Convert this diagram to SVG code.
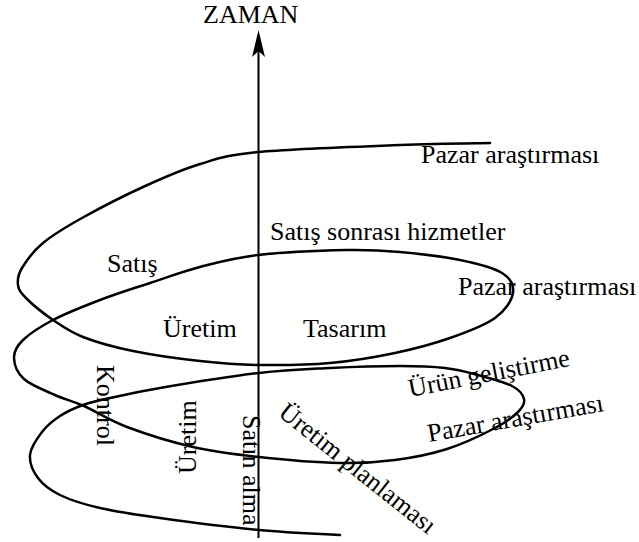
<svg xmlns="http://www.w3.org/2000/svg" width="639" height="542" viewBox="0 0 639 542">
<style>
.t{font-family:"Liberation Serif","Times New Roman",serif;font-size:26px;fill:#000}
.c{fill:none;stroke:#000;stroke-width:2.5;stroke-linecap:round;stroke-linejoin:round}
</style>
<rect width="639" height="542" fill="#fff"/>
<g id="connectors">
<path id="spiral" class="c" d="M490,143 C475,143.3 438.7,143.5 400,145 C361.3,146.5 291.3,148.8 258,152 C224.7,155.2 219.2,158.2 200,164 C180.8,169.8 162.7,178 143,187 C123.3,196 98.7,208.7 82,218 C65.3,227.3 53,234.7 43,243 C33,251.3 26.2,261 22,268 C17.8,275 17.3,280 18,285 C18.7,290 20.2,292.2 26,298 C31.8,303.8 43.5,313.5 53,320 C62.5,326.5 69.7,331.8 83,337 C96.3,342.2 113.5,347 133,351 C152.5,355 179,358.7 200,361 C221,363.3 237.3,364.7 259,365 C280.7,365.3 307.3,365 330,363 C352.7,361 375,357.2 395,353 C415,348.8 433.3,343.8 450,338 C466.7,332.2 484.5,325.5 495,318 C505.5,310.5 511.8,300.5 513,293 C514.2,285.5 510.8,278.5 502,273 C493.2,267.5 477,263.5 460,260 C443,256.5 418.8,253.7 400,252 C381.2,250.3 370.7,249.5 347,250 C323.3,250.5 282.5,252.2 258,255 C233.5,257.8 218,262.3 200,267 C182,271.7 166.7,277.5 150,283 C133.3,288.5 116.2,293.8 100,300 C83.8,306.2 65.8,313.3 53,320 C40.2,326.7 29.5,333.7 23,340 C16.5,346.3 13.8,351.5 14,358 C14.2,364.5 17.2,372.8 24,379 C30.8,385.2 45,390.5 55,395 C65,399.5 72,400.7 84,406 C96,411.3 108.8,420.2 127,427 C145.2,433.8 171,442 193,447 C215,452 234.5,454.3 259,457 C283.5,459.7 317.3,462.5 340,463 C362.7,463.5 377.2,462.3 395,460 C412.8,457.7 430.3,454.3 447,449 C463.7,443.7 483.2,434.2 495,428 C506.8,421.8 513.2,416.8 518,412 C522.8,407.2 525,403.3 524,399 C523,394.7 519.7,390 512,386 C504.3,382 489.2,378 478,375 C466.8,372 458,369.5 445,368 C432,366.5 419.2,366 400,366 C380.8,366 353.5,366.8 330,368 C306.5,369.2 287.3,369.7 259,373 C230.7,376.3 184.8,383.8 160,388 C135.2,392.2 122.8,395.2 110,398 C97.2,400.8 91.3,402 83,405 C74.7,408 66.8,411.5 60,416 C53.2,420.5 47,425.5 42,432 C37,438.5 30.7,447.3 30,455 C29.3,462.7 33,471.3 38,478 C43,484.7 49.7,490 60,495 C70.3,500 83.3,504.2 100,508 C116.7,511.8 133.5,514.3 160,518 C186.5,521.7 229,527.2 259,530 C289,532.8 326.5,534.2 340,535"/>
<g id="axis">
<line x1="258.5" y1="48" x2="258.5" y2="538" stroke="#000" stroke-width="2"/>
<path d="M258.5,30 L265,57 L258.5,51 L252,57 Z" fill="#000"/>
</g>
</g>
<g id="label-zaman"><text class="t" x="203" y="23">ZAMAN</text></g>
<g id="label-pazar1"><text class="t" x="421" y="163">Pazar araştırması</text></g>
<g id="label-satis-sonrasi"><text class="t" x="270" y="240">Satış sonrası hizmetler</text></g>
<g id="label-satis"><text class="t" x="107" y="272">Satış</text></g>
<g id="label-pazar2"><text class="t" x="458" y="295">Pazar araştırması</text></g>
<g id="label-uretim1"><text class="t" x="163" y="337">Üretim</text></g>
<g id="label-tasarim"><text class="t" x="303" y="337">Tasarım</text></g>
<g id="label-kontrol"><text class="t" x="97" y="365" transform="rotate(90 97 365)">Kontrol</text></g>
<g id="label-uretim2"><text class="t" x="196" y="474" transform="rotate(-90 196 474)">Üretim</text></g>
<g id="label-satin-alma"><text class="t" x="243" y="415" transform="rotate(90 243 415)">Satın alma</text></g>
<g id="label-uretim-planlamasi"><text class="t" x="277" y="415" transform="rotate(38.5 277 415)">Üretim planlaması</text></g>
<g id="label-urun-gelistirme"><text class="t" x="410" y="397" transform="rotate(-11 410 397)">Ürün geliştirme</text></g>
<g id="label-pazar3"><text class="t" x="429" y="442" transform="rotate(-10 429 442)">Pazar araştırması</text></g>
</svg>
